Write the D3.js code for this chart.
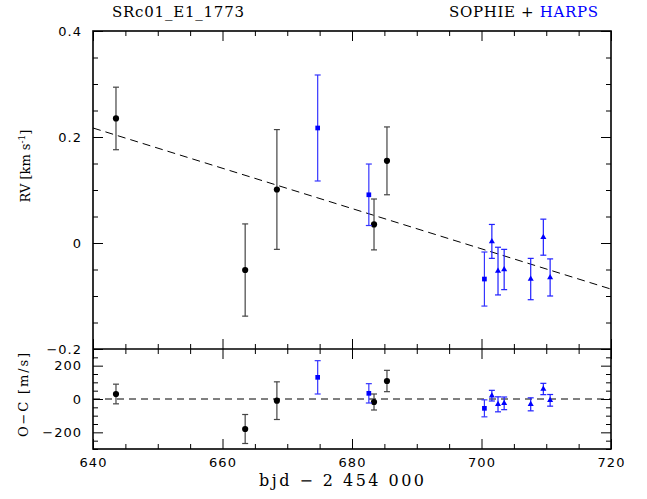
<!DOCTYPE html>
<html>
<head>
<meta charset="utf-8">
<script src="https://cdn.jsdelivr.net/npm/d3@7"></script>
<style>
  body { margin: 0; background: #fff; }
  .tick text { font-family: "DejaVu Sans", sans-serif; font-size: 13px; letter-spacing: 1px; fill: #000; }
  .domain { display: none; }
  .tick line { stroke: #000; stroke-width: 1; }
  .lbl { font-family: "DejaVu Serif", serif; fill: #000; }
</style>
</head>
<body>
<div id="chart"></div>
<script>
// SOPHIE points (black circles)
const sophieT   = [643.55, 663.5, 668.4, 683.4, 685.4];
const sophieRV  = [0.235, -0.051, 0.101, 0.035, 0.155];
const sophieErr = [0.059, 0.087, 0.113, 0.048, 0.064];
const sophieOC  = [30, -180, -10, -18, 108];

// HARPS points, squares
const harpsSqT   = [674.7, 682.6, 700.45];
const harpsSqRV  = [0.217, 0.091, -0.068];
const harpsSqErr = [0.100, 0.058, 0.051];
const harpsSqOC  = [130, 34, -56];

// HARPS points, triangles
const harpsTriT   = [701.6, 702.55, 703.5, 707.6, 709.55, 710.6];
const harpsTriRV  = [0.003, -0.053, -0.050, -0.068, 0.011, -0.065];
const harpsTriErr = [0.032, 0.045, 0.038, 0.039, 0.034, 0.035];
const harpsTriOC  = [20, -32, -26, -32, 60, -8];

// linear drift
const trendT  = [640, 720];
const trendRV = [0.217, -0.087];

// ticks
const xMajor  = [640, 660, 680, 700, 720];
const rvMajor = [-0.2, 0, 0.2, 0.4];
const ocMajor = [-200, 0, 200];

const width = 647, height = 499;
const left = 93, right = 611;
const mainTop = 31, mainBottom = 349, ocBottom = 449;

const svg = d3.select("#chart").append("svg")
    .attr("width", width)
    .attr("height", height);

const x = d3.scaleLinear().domain([640, 720]).range([left, right]);
const y = d3.scaleLinear().domain([-0.2, 0.4]).range([mainBottom, mainTop]);
const yOC = d3.scaleLinear().domain([-300, 300]).range([ocBottom, mainBottom]);

const xMinor = d3.range(640, 721, 5).filter(v => !xMajor.includes(v));
const rvMinor = d3.range(-4, 9).map(i => +(i * 0.05).toFixed(2)).filter(v => !rvMajor.includes(v));
const ocMinor = d3.range(-300, 301, 50).filter(v => !ocMajor.includes(v));

// draw inward ticks for one side
function ticks(axisFn, scale, transform, major, minor, labels, pad) {
  svg.append("g").attr("transform", transform)
    .call(axisFn(scale).tickValues(minor).tickSize(-5).tickFormat(""));
  svg.append("g").attr("transform", transform)
    .call(axisFn(scale).tickValues(major).tickSize(-10).tickPadding(pad || 3)
      .tickFormat(labels ? labels : ""));
}

const fmtRV = d => d === 0 ? "0" : d3.format(".1f")(d).replace("-", "\u2212");
const fmtOC = d => String(d).replace("-", "\u2212");

// main panel
ticks(d3.axisLeft, y, `translate(${left},0)`, rvMajor, rvMinor, fmtRV, 11);
ticks(d3.axisRight, y, `translate(${right},0)`, rvMajor, rvMinor, null);
ticks(d3.axisTop, x, `translate(0,${mainTop})`, xMajor, xMinor, null);
ticks(d3.axisBottom, x, `translate(0,${mainBottom})`, xMajor, xMinor, null);
// O-C panel
ticks(d3.axisLeft, yOC, `translate(${left},0)`, ocMajor, ocMinor, fmtOC, 11);
ticks(d3.axisRight, yOC, `translate(${right},0)`, ocMajor, ocMinor, null);
ticks(d3.axisTop, x, `translate(0,${mainBottom})`, xMajor, xMinor, null);
ticks(d3.axisBottom, x, `translate(0,${ocBottom})`, xMajor, xMinor, d3.format("d"), 9);

// frames
svg.append("rect").attr("x", left).attr("y", mainTop)
  .attr("width", right - left).attr("height", ocBottom - mainTop)
  .attr("fill", "none").attr("stroke", "#000").attr("stroke-width", 1.6);
svg.append("line").attr("x1", left).attr("x2", right)
  .attr("y1", mainBottom).attr("y2", mainBottom)
  .attr("stroke", "#000").attr("stroke-width", 1.6);

// trend line and zero line
svg.append("line")
  .attr("x1", x(trendT[0])).attr("y1", y(trendRV[0]))
  .attr("x2", x(trendT[1])).attr("y2", y(trendRV[1]))
  .attr("stroke", "#000").attr("stroke-width", 1).attr("stroke-dasharray", "8,5");
svg.append("line")
  .attr("x1", x(640)).attr("y1", yOC(0))
  .attr("x2", x(720)).attr("y2", yOC(0))
  .attr("stroke", "#000").attr("stroke-width", 1).attr("stroke-dasharray", "7,5");

function series(ts, rv, err, oc, color, barColor, shape) {
  const rows = ts.map((t, i) => ({ t, rv: rv[i], err: err[i], oc: oc[i] }));
  const panels = [
    { sy: y, v: d => d.rv, e: d => d.err },
    { sy: yOC, v: d => d.oc, e: d => d.err * 1000 }
  ];
  panels.forEach(p => {
    const g = svg.append("g");
    const bars = g.selectAll("g.bar").data(rows).enter().append("g")
      .attr("stroke", barColor).attr("stroke-width", 1.2);
    bars.append("line")
      .attr("x1", d => x(d.t)).attr("x2", d => x(d.t))
      .attr("y1", d => p.sy(p.v(d) - p.e(d))).attr("y2", d => p.sy(p.v(d) + p.e(d)));
    [-1, 1].forEach(s => {
      bars.append("line")
        .attr("x1", d => x(d.t) - 3).attr("x2", d => x(d.t) + 3)
        .attr("y1", d => p.sy(p.v(d) + s * p.e(d))).attr("y2", d => p.sy(p.v(d) + s * p.e(d)));
    });
    g.selectAll("path.pt").data(rows).enter().append("path")
      .attr("d", d3.symbol(shape.type, shape.size))
      .attr("transform", d => `translate(${x(d.t)},${p.sy(p.v(d))})`)
      .attr("fill", color);
  });
}

series(sophieT, sophieRV, sophieErr, sophieOC, "#000", "#444", { type: d3.symbolCircle, size: 30 });
series(harpsSqT, harpsSqRV, harpsSqErr, harpsSqOC, "#0000ff", "#3535ff", { type: d3.symbolSquare, size: 22 });
series(harpsTriT, harpsTriRV, harpsTriErr, harpsTriOC, "#0000ff", "#2020ff", { type: d3.symbolTriangle, size: 16 });

// texts
svg.append("text").attr("class", "lbl")
  .attr("x", 112).attr("y", 17).attr("font-size", 15)
  .attr("textLength", 132).attr("lengthAdjust", "spacing")
  .text("SRc01_E1_1773");

const sub = svg.append("text").attr("class", "lbl")
  .attr("x", 449).attr("y", 17).attr("font-size", 15)
  .attr("textLength", 149).attr("lengthAdjust", "spacing");
sub.append("tspan").text("SOPHIE + ");
sub.append("tspan").attr("fill", "#0000ff").text("HARPS");

svg.append("text").attr("class", "lbl")
  .attr("x", 259).attr("y", 486).attr("font-size", 16)
  .attr("textLength", 165).attr("lengthAdjust", "spacing")
  .text("bjd \u2212 2 454 000");

const rvl = svg.append("text").attr("class", "lbl")
  .attr("transform", "translate(30,166) rotate(-90)")
  .attr("text-anchor", "middle").attr("font-size", 13);
rvl.append("tspan").text("RV [km s");
rvl.append("tspan").attr("font-size", 9).attr("dy", -5).text("-1");
rvl.append("tspan").attr("dy", 5).text("]");

svg.append("text").attr("class", "lbl")
  .attr("transform", "translate(28,437) rotate(-90)")
  .attr("font-size", 13)
  .attr("textLength", 84).attr("lengthAdjust", "spacing")
  .text("O\u2212C [m/s]");
</script>
</body>
</html>
